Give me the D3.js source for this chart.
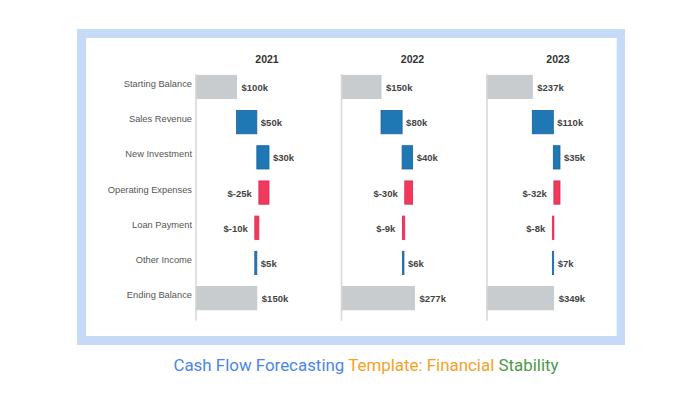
<!DOCTYPE html>
<html>
<head>
<meta charset="utf-8">
<script src="https://cdn.jsdelivr.net/npm/d3@7"></script>
<style>
  html, body { margin: 0; padding: 0; background: #ffffff; }
  svg { display: block; }
</style>
</head>
<body>
<svg id="chart" width="698" height="400"></svg>
<script>
// ---- data ----
const years = ["2021", "2022", "2023"];
const categories = ["Starting Balance", "Sales Revenue", "New Investment", "Operating Expenses", "Loan Payment", "Other Income", "Ending Balance"];
const startingBalance = [100, 150, 237];
const salesRevenue = [50, 80, 110];
const newInvestment = [30, 40, 35];
const operatingExpenses = [-25, -30, -32];
const loanPayment = [-10, -9, -8];
const otherIncome = [5, 6, 7];
const endingBalance = [150, 277, 349];
const titleParts = [
  { text: "Cash Flow Forecasting ", color: "#4a86e8" },
  { text: "Template: Financial ", color: "#f5a127" },
  { text: "Stability", color: "#4d9a48" }
];

// ---- layout ----
const svg = d3.select("#chart");
const colors = { total: "#c9cccf", pos: "#1f77b4", neg: "#ef3a5d" };
const strokes = { total: "#c3c6c9", pos: "#1a62a0", neg: "#e0284e" };

// frame
svg.append("rect").attr("x", 77).attr("y", 29).attr("width", 548).attr("height", 316).attr("fill", "#c6d9f6");
svg.append("rect").attr("x", 86).attr("y", 38).attr("width", 530.7).attr("height", 298).attr("fill", "#ffffff");

const y = d3.scaleBand().domain(categories).range([69.35, 315.75]).paddingInner(0.338).paddingOuter(0.169);
const panelX = d3.scalePoint().domain(years).range([196, 487]);
const panelWidth = 73;

years.forEach((yr, i) => {
  const deltas = [salesRevenue[i], newInvestment[i], operatingExpenses[i], loanPayment[i], otherIncome[i]];
  const bars = [];
  let run = startingBalance[i];
  bars.push({ cat: categories[0], x0: 0, x1: run, v: startingBalance[i], type: "total" });
  deltas.forEach((d, j) => {
    const a = run, b = run + d;
    bars.push({ cat: categories[j + 1], x0: Math.min(a, b), x1: Math.max(a, b), v: d, type: d >= 0 ? "pos" : "neg" });
    run = b;
  });
  bars.push({ cat: categories[6], x0: 0, x1: endingBalance[i], v: endingBalance[i], type: "total" });

  const maxV = d3.max(bars, b => b.x1);
  const x = d3.scaleLinear().domain([0, maxV]).range([0, panelWidth]);
  const g = svg.append("g").attr("transform", `translate(${panelX(yr)},0)`);

  // year title
  g.append("text")
    .attr("x", 71).attr("y", 58.7)
    .attr("text-anchor", "middle").attr("dominant-baseline", "central")
    .attr("font-family", "Liberation Sans, Arial, sans-serif")
    .attr("font-size", 10.5).attr("font-weight", "bold").attr("fill", "#333")
    .text(yr);

  // bars
  g.selectAll("rect.bar").data(bars).enter().append("rect")
    .attr("class", "bar")
    .attr("x", d => x(d.x0))
    .attr("y", d => y(d.cat))
    .attr("width", d => Math.max(1, x(d.x1) - x(d.x0)))
    .attr("height", y.bandwidth())
    .attr("fill", d => colors[d.type])
    .attr("stroke", d => strokes[d.type])
    .attr("stroke-width", 0.8);

  // axis line
  g.append("line")
    .attr("x1", 0).attr("x2", 0)
    .attr("y1", y(categories[0]) - 1.3)
    .attr("y2", y(categories[6]) + y.bandwidth() + 11)
    .attr("stroke", "#d6d6d6").attr("stroke-width", 1.5);

  // value labels
  g.selectAll("text.val").data(bars).enter().append("text")
    .attr("class", "val")
    .attr("x", d => d.v >= 0 ? x(d.x1) + (d.type === "total" ? 5 : 4) : x(d.x0) - 7)
    .attr("y", d => y(d.cat) + y.bandwidth() / 2 + 0.5)
    .attr("text-anchor", d => d.v >= 0 ? "start" : "end")
    .attr("dominant-baseline", "central")
    .attr("font-family", "Liberation Sans, Arial, sans-serif")
    .attr("font-size", 9.5).attr("font-weight", "bold").attr("fill", "#444")
    .text(d => `$${d.v}k`);

  // category labels (first panel only)
  if (i === 0) {
    svg.selectAll("text.cat").data(categories).enter().append("text")
      .attr("class", "cat")
      .attr("x", panelX(yr) - 4)
      .attr("y", d => y(d) + y.bandwidth() / 2 - 3)
      .attr("text-anchor", "end").attr("dominant-baseline", "central")
      .attr("font-family", "Liberation Sans, Arial, sans-serif")
      .attr("font-size", 9.3).attr("fill", "#555")
      .text(d => d);
  }
});

// bottom title
const t = svg.append("text")
  .attr("x", 366).attr("y", 371)
  .attr("text-anchor", "middle")
  .attr("font-family", "Roboto, sans-serif")
  .attr("font-size", 16.9);
titleParts.forEach(p => t.append("tspan").attr("fill", p.color).text(p.text));
</script>
</body>
</html>
